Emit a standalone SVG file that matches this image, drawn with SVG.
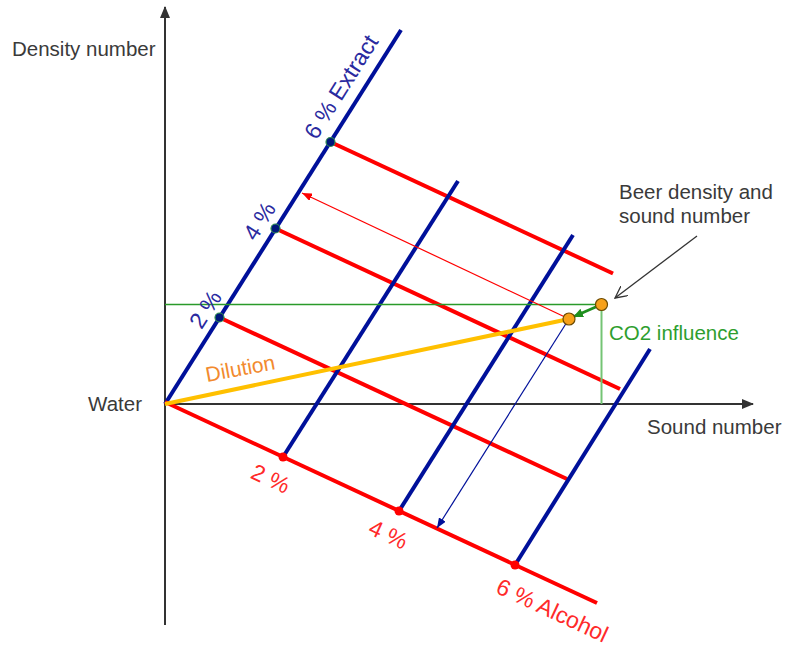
<svg xmlns="http://www.w3.org/2000/svg" width="787" height="649" viewBox="0 0 787 649">
<defs>
<style>
.ax{stroke:#333;stroke-width:2;fill:none}
.bl{stroke:#00109a;stroke-width:4;stroke-linecap:butt;fill:none}
.rd{stroke:#ff0000;stroke-width:4;fill:none}
.lbl{font-family:"Liberation Sans",Arial,sans-serif;font-size:20.5px;fill:#3a3a3a}
.rot{font-family:"Liberation Sans",Arial,sans-serif;font-size:23px;text-anchor:middle}
.bt{fill:#2a2aa0}
.rt{fill:#ff2a2a}
.edot{fill:#00177a;stroke:#2f8f4f;stroke-width:1.2}
.adot{fill:#ff0000}
.odot{fill:#f7a11a;stroke:#6b4a00;stroke-width:1.2}
</style>
<marker id="axh" markerUnits="userSpaceOnUse" markerWidth="12" markerHeight="10" refX="11" refY="5" orient="auto"><path d="M0,0 L12,5 L0,10 z" fill="#333"/></marker>
<marker id="rh" markerUnits="userSpaceOnUse" markerWidth="10" markerHeight="8" refX="10" refY="4" orient="auto"><path d="M0,0 L10,4 L0,8 z" fill="#ff0000"/></marker>
<marker id="bh" markerUnits="userSpaceOnUse" markerWidth="10" markerHeight="8" refX="10" refY="4" orient="auto"><path d="M0,0 L10,4 L0,8 z" fill="#00109a"/></marker>
<marker id="gh" markerUnits="userSpaceOnUse" markerWidth="10" markerHeight="9" refX="9" refY="4.5" orient="auto"><path d="M0,0 L10,4.5 L0,9 z" fill="#1f8f1f"/></marker>
<marker id="kh" markerUnits="userSpaceOnUse" markerWidth="13" markerHeight="12" refX="12" refY="6" orient="auto"><path d="M0,0 L12,6 L0,12" fill="none" stroke="#333" stroke-width="1.3"/></marker>
</defs>
<rect width="787" height="649" fill="#fff"/>

<g id="axes">
<line class="ax" x1="165" y1="625" x2="165" y2="7" marker-end="url(#axh)"/>
<line class="ax" x1="165" y1="404" x2="753" y2="404" marker-end="url(#axh)"/>
<text class="lbl" x="12" y="56">Density number</text>
<text class="lbl" x="647" y="434">Sound number</text>
<text class="lbl" x="142" y="411" text-anchor="end">Water</text>
</g>

<g id="connectors">
<line class="rd" x1="219.5" y1="317.5" x2="567" y2="479"/>
<line class="rd" x1="275.5" y1="228.5" x2="620" y2="389"/>
<line class="rd" x1="330.5" y1="142" x2="613" y2="273.5"/>
<line class="bl" x1="283" y1="457" x2="458" y2="181"/>
<line class="bl" x1="399" y1="511" x2="573" y2="235"/>
<line class="bl" x1="515" y1="565" x2="650" y2="349"/>
<line class="bl" x1="165" y1="404" x2="401" y2="30" stroke-width="4.5"/>
<line class="rd" x1="165" y1="402" x2="597" y2="603" stroke-width="5"/>
<line x1="165" y1="304.5" x2="601.5" y2="304.5" stroke="#2a9a2a" stroke-width="1.6"/>
<line x1="601.5" y1="304.5" x2="601.5" y2="404" stroke="#74c474" stroke-width="2"/>
<line x1="165" y1="404" x2="569" y2="319" stroke="#ffc000" stroke-width="4"/>
<line x1="566" y1="317.5" x2="302" y2="193" stroke="#ff0000" stroke-width="1.2" marker-end="url(#rh)"/>
<line x1="567" y1="322" x2="437" y2="528" stroke="#00109a" stroke-width="1.2" marker-end="url(#bh)"/>
<line x1="598" y1="306" x2="574" y2="316.5" stroke="#1f8f1f" stroke-width="3" marker-end="url(#gh)"/>
<line x1="697" y1="236" x2="615" y2="298" stroke="#333" stroke-width="1.3" marker-end="url(#kh)"/>
</g>

<g id="points">
<circle class="edot" cx="219.5" cy="317.5" r="4.5"/>
<circle class="edot" cx="275.5" cy="228.5" r="4.5"/>
<circle class="edot" cx="330.5" cy="142" r="4.5"/>
<circle class="adot" cx="283" cy="457" r="4.5"/>
<circle class="adot" cx="399" cy="511" r="4.5"/>
<circle class="adot" cx="515" cy="565" r="4.5"/>
<circle class="odot" cx="601.5" cy="304.5" r="6"/>
<circle class="odot" cx="569" cy="319" r="6"/>
</g>

<g id="labels">
<text class="rot bt" transform="translate(212,313.6) rotate(-57.7)">2 %</text>
<text class="rot bt" transform="translate(266.2,225.2) rotate(-57.7)">4 %</text>
<text class="rot bt" transform="translate(347.8,91.1) rotate(-57.7)">6 % Extract</text>
<text class="rot rt" transform="translate(267.3,485.8) rotate(24.95)">2 %</text>
<text class="rot rt" transform="translate(385,541.5) rotate(24.95)">4 %</text>
<text class="rot rt" transform="translate(549,617.5) rotate(24.95)">6 % Alcohol</text>
<text transform="translate(241.5,375.5) rotate(-10.5)" text-anchor="middle" font-family="Liberation Sans, Arial, sans-serif" font-size="21" fill="#f28a2e">Dilution</text>
<text class="lbl" x="609" y="340" style="fill:#2e9e2e">CO2 influence</text>
<text class="lbl" x="619" y="199">Beer density and</text>
<text class="lbl" x="619" y="223">sound number</text>
</g>
</svg>
